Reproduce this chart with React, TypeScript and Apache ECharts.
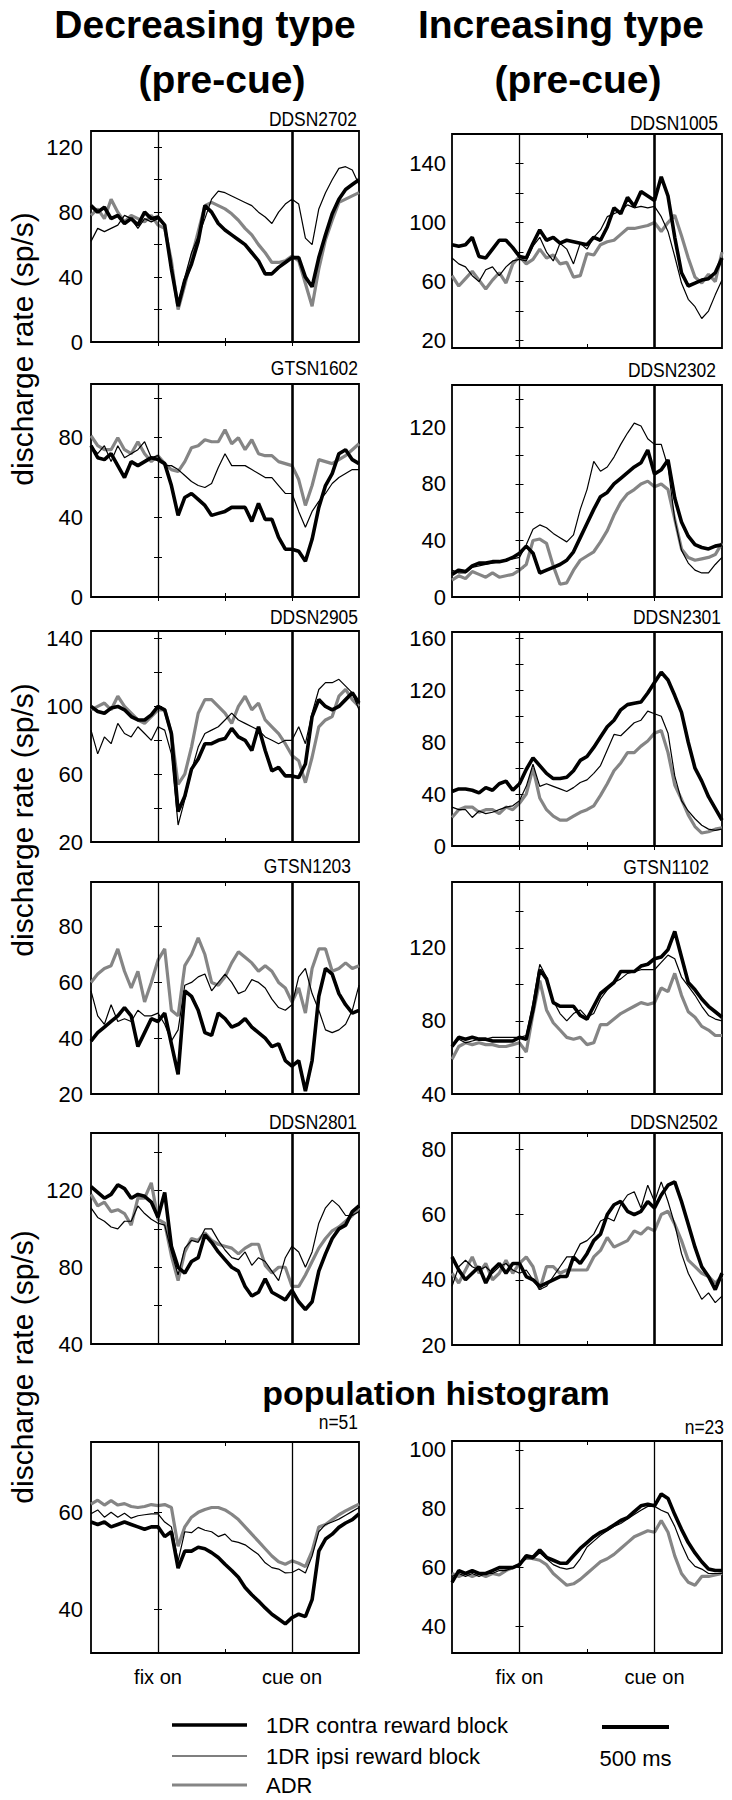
import React, { useEffect, useRef } from 'react';
import * as echarts from 'echarts';

// ---------- data ----------
const timeMs = [-500, -450, -400, -350, -300, -250, -200, -150, -100, -50, 0, 50, 100, 150, 200, 250, 300, 350, 400, 450, 500, 550, 600, 650, 700, 750, 800, 850, 900, 950, 1000, 1050, 1100, 1150, 1200, 1250, 1300, 1350, 1400, 1450, 1500];
const eventTimes = [0, 1000];
const eventNames = ['fix on', 'cue on'];
const xTickValues = [0, 500, 1000];
const seriesNames = ['1DR contra reward block', '1DR ipsi reward block', 'ADR'];
const scaleBarMs = 500;

// Decreasing type
const contra2702 = [84, 80, 83, 76, 78, 73, 76, 72, 80, 76, 77, 72, 45, 22, 38, 48, 62, 84, 80, 73, 69, 66, 63, 60, 55, 50, 42, 42, 46, 49, 52, 52, 40, 34, 52, 66, 79, 88, 94, 97, 100];
const ipsi2702 = [62, 70, 68, 70, 72, 78, 76, 70, 76, 74, 76, 72, 45, 24, 40, 55, 65, 76, 88, 93, 92, 90, 88, 86, 84, 80, 77, 73, 80, 85, 88, 85, 64, 60, 82, 92, 100, 107, 108, 106, 97];
const adr2702 = [78, 82, 76, 88, 80, 74, 78, 76, 74, 78, 72, 70, 50, 20, 35, 52, 68, 84, 86, 84, 82, 79, 75, 70, 66, 60, 55, 49, 49, 50, 53, 50, 36, 22, 45, 63, 75, 86, 88, 90, 92];
const yLabels2702 = [0, 40, 80, 120];
const yTicks2702 = [0, 20, 40, 60, 80, 100, 120];

const contra1602 = [76, 70, 69, 72, 66, 60, 68, 66, 68, 70, 69, 67, 56, 41, 50, 52, 49, 46, 41, 42, 43, 45, 45, 45, 38, 47, 39, 39, 30, 24, 24, 23, 18, 29, 45, 56, 62, 72, 74, 69, 67];
const ipsi1602 = [76, 72, 76, 68, 76, 70, 72, 74, 78, 70, 71, 66, 66, 64, 61, 58, 56, 55, 57, 65, 72, 66, 66, 66, 64, 62, 60, 60, 56, 52, 52, 43, 35, 43, 48, 52, 57, 60, 62, 64, 64];
const adr1602 = [81, 76, 74, 74, 80, 74, 72, 78, 72, 68, 71, 67, 64, 63, 68, 75, 76, 79, 78, 78, 84, 77, 80, 74, 79, 72, 71, 71, 68, 67, 66, 59, 46, 56, 69, 68, 67, 69, 71, 74, 77];
const yLabels1602 = [0, 40, 80];
const yTicks1602 = [0, 20, 40, 60, 80, 100];

const contra2905 = [100, 97, 96, 99, 100, 98, 94, 92, 92, 95, 100, 98, 84, 38, 47, 63, 69, 78, 78, 80, 81, 87, 82, 80, 74, 88, 74, 62, 64, 59, 59, 58, 66, 94, 104, 100, 98, 100, 104, 108, 102];
const ipsi2905 = [86, 72, 82, 78, 90, 84, 82, 88, 84, 80, 88, 86, 72, 30, 45, 62, 76, 84, 86, 88, 92, 96, 92, 90, 88, 86, 82, 80, 78, 80, 80, 88, 78, 96, 110, 114, 114, 116, 112, 108, 98];
const adr2905 = [98, 100, 102, 98, 106, 100, 96, 92, 90, 94, 98, 98, 84, 54, 60, 76, 96, 104, 104, 100, 96, 90, 100, 106, 98, 102, 92, 88, 84, 78, 71, 68, 55, 70, 88, 92, 94, 106, 110, 104, 100];
const yLabels2905 = [20, 60, 100, 140];
const yTicks2905 = [20, 40, 60, 80, 100, 120, 140];

const contra1203 = [39, 42, 44, 46, 48, 51, 48, 37, 42, 47, 46, 49, 38, 27, 57, 55, 50, 42, 41, 49, 47, 44, 45, 47, 44, 42, 40, 37, 38, 32, 30, 32, 21, 32, 55, 65, 63, 56, 52, 49, 50];
const ipsi1203 = [57, 48, 45, 52, 46, 47, 46, 50, 48, 48, 49, 45, 39, 43, 59, 60, 62, 63, 57, 60, 63, 60, 56, 57, 61, 60, 58, 54, 51, 50, 52, 62, 65, 56, 50, 43, 42, 43, 45, 50, 59];
const adr1203 = [60, 63, 65, 66, 72, 64, 58, 64, 53, 60, 68, 72, 50, 48, 66, 70, 76, 70, 60, 59, 62, 67, 71, 69, 67, 64, 66, 64, 60, 58, 53, 58, 49, 65, 72, 72, 64, 65, 67, 65, 66];
const yLabels1203 = [20, 40, 60, 80];
const yTicks1203 = [20, 40, 60, 80];

const contra2801 = [122, 119, 116, 118, 123, 121, 116, 118, 117, 114, 106, 119, 91, 80, 77, 83, 85, 97, 93, 88, 84, 80, 78, 70, 65, 67, 74, 67, 65, 63, 68, 62, 58, 62, 78, 87, 95, 100, 102, 109, 112];
const ipsi2801 = [111, 106, 104, 101, 100, 104, 104, 112, 108, 105, 103, 102, 88, 76, 90, 94, 93, 100, 100, 94, 89, 85, 84, 88, 81, 85, 83, 78, 73, 85, 91, 88, 80, 88, 103, 111, 115, 112, 107, 107, 109];
const adr2801 = [118, 112, 114, 109, 110, 108, 102, 116, 116, 124, 105, 103, 86, 73, 88, 95, 94, 98, 94, 92, 91, 90, 87, 90, 92, 92, 81, 77, 80, 80, 70, 70, 76, 83, 90, 95, 99, 101, 104, 107, 111];
const yLabels2801 = [40, 80, 120];
const yTicks2801 = [40, 60, 80, 100, 120, 140];

const contraPopDec = [58, 57.5, 58, 57, 57.5, 58, 57.5, 57, 56.5, 57, 57, 55, 56, 48.5, 52, 52, 52.8, 52.5, 51.7, 50.7, 49.3, 48, 46.6, 44.5, 43, 41.7, 40.3, 39, 38, 37, 38.3, 39, 38.5, 42, 52, 54.5, 55.5, 56.9, 57.8, 58.5, 59.7];
const ipsiPopDec = [59.7, 60.5, 59, 60, 59, 59.8, 58.8, 59.3, 59.5, 59.7, 59.7, 58, 57, 50, 56, 55.8, 56.9, 56.3, 56, 55, 55.5, 54.1, 53.8, 53.3, 52.3, 51.3, 49.6, 48.6, 48.3, 47.5, 47.6, 48.3, 47.5, 51, 56, 57.5, 58, 58.6, 59.4, 60.2, 61];
const adrPopDec = [61.7, 62.5, 61.5, 62.4, 61.5, 61.8, 61.2, 61, 61.2, 61.6, 61.4, 61.6, 61, 53, 57, 59, 60, 60.6, 61, 61, 60.5, 59.6, 58.5, 57, 55.5, 54, 52.5, 51, 49.8, 49.3, 50, 49.5, 48.8, 52, 57, 57.5, 58.5, 59.5, 60.3, 61, 61.7];
const yLabelsPopDec = [40, 60];
const yTicksPopDec = [40, 60];

// Increasing type
const contra1005 = [85, 84, 85, 90, 77, 76, 82, 88, 88, 83, 77, 76, 86, 95, 88, 90, 86, 88, 87, 86, 85, 90, 88, 97, 110, 106, 117, 111, 121, 118, 115, 131, 118, 90, 66, 57, 59, 61, 62, 66, 76];
const ipsi1005 = [76, 72, 70, 64, 60, 68, 70, 64, 70, 74, 75, 74, 84, 90, 80, 74, 86, 82, 72, 86, 82, 90, 95, 104, 106, 108, 112, 110, 111, 110, 111, 104, 94, 77, 59, 48, 43, 35, 40, 51, 61];
const adr1005 = [64, 57, 62, 67, 61, 55, 61, 66, 59, 72, 77, 72, 75, 82, 76, 78, 72, 73, 63, 64, 79, 78, 85, 87, 88, 92, 96, 96, 97, 98, 100, 94, 100, 105, 91, 76, 63, 59, 65, 60, 80];
const yLabels1005 = [20, 60, 100, 140];
const yTicks1005 = [20, 40, 60, 80, 100, 120, 140];

const contra2302 = [16, 19, 18, 22, 24, 24, 25, 25, 26, 28, 31, 36, 31, 17, 19, 21, 23, 26, 32, 42, 52, 62, 71, 74, 80, 84, 88, 92, 95, 104, 87, 90, 97, 70, 53, 43, 37, 35, 34, 36, 37];
const ipsi2302 = [19, 17, 17, 21, 22, 23, 24, 25, 26, 27, 28, 37, 48, 51, 49, 45, 42, 39, 44, 62, 76, 96, 89, 92, 99, 108, 116, 123, 121, 112, 108, 108, 92, 55, 33, 24, 19, 17, 17, 23, 28];
const adr2302 = [12, 15, 13, 18, 16, 14, 17, 14, 15, 16, 19, 23, 40, 41, 38, 22, 9, 10, 19, 26, 29, 32, 39, 47, 58, 67, 73, 76, 80, 82, 78, 80, 76, 55, 34, 28, 26, 27, 28, 30, 38];
const yLabels2302 = [0, 40, 80, 120];
const yTicks2302 = [0, 20, 40, 60, 80, 100, 120, 140];

const contra2301 = [42, 44, 44, 43, 41, 45, 43, 48, 50, 43, 48, 59, 68, 62, 56, 52, 52, 53, 58, 66, 69, 76, 84, 92, 97, 105, 109, 110, 111, 118, 126, 134, 128, 116, 103, 80, 60, 50, 38, 29, 20];
const ipsi2301 = [30, 28, 28, 22, 27, 25, 26, 28, 30, 31, 35, 46, 63, 46, 48, 46, 44, 42, 45, 49, 51, 56, 62, 74, 86, 85, 90, 95, 97, 104, 102, 100, 87, 54, 35, 27, 21, 16, 13, 12, 13];
const adr2301 = [22, 28, 30, 30, 26, 28, 28, 25, 30, 28, 33, 40, 60, 37, 28, 23, 20, 20, 23, 26, 28, 31, 39, 48, 58, 64, 72, 72, 77, 81, 87, 89, 72, 47, 36, 24, 15, 10, 11, 13, 14];
const yLabels2301 = [0, 40, 80, 120, 160];
const yTicks2301 = [0, 20, 40, 60, 80, 100, 120, 140, 160];

const contra1102 = [66, 71, 70, 71, 70, 70, 69, 69, 69, 69, 71, 70, 86, 108, 103, 90, 88, 88, 88, 83, 81, 88, 95, 98, 101, 107, 107, 107, 110, 111, 114, 115, 119, 129, 115, 101, 97, 92, 88, 85, 82];
const ipsi1102 = [66, 70, 68, 69, 70, 70, 71, 71, 71, 71, 71, 72, 90, 111, 104, 91, 84, 80, 84, 86, 82, 84, 92, 97, 101, 103, 106, 107, 108, 108, 108, 112, 116, 114, 104, 99, 94, 88, 83, 81, 80];
const adr1102 = [59, 66, 68, 67, 68, 67, 67, 66, 66, 67, 68, 63, 84, 102, 86, 79, 75, 71, 70, 71, 67, 68, 78, 78, 81, 84, 86, 88, 90, 89, 90, 98, 96, 106, 94, 85, 82, 77, 75, 72, 72];
const yLabels1102 = [40, 80, 120];
const yTicks1102 = [40, 60, 80, 100, 120, 140];

const contra2502 = [47, 43, 40, 42, 44, 39, 43, 45, 42, 45, 45, 41, 40, 38, 39, 40, 41, 41, 47, 45, 48, 52, 54, 60, 63, 64, 61, 60, 61, 64, 62, 66, 69, 70, 64, 57, 50, 44, 41, 37, 42];
const ipsi2502 = [38, 44, 46, 44, 43, 44, 42, 44, 45, 43, 42, 43, 40, 37, 38, 41, 44, 47, 47, 51, 52, 54, 58, 59, 58, 63, 66, 67, 62, 69, 64, 70, 64, 57, 48, 42, 38, 34, 36, 33, 35];
const adr2502 = [42, 39, 43, 47, 42, 45, 40, 42, 46, 42, 45, 47, 44, 37, 44, 44, 42, 43, 43, 43, 43, 47, 49, 53, 50, 51, 52, 55, 54, 56, 55, 60, 61, 57, 52, 46, 44, 42, 41, 39, 41];
const yLabels2502 = [20, 40, 60, 80];
const yTicks2502 = [20, 40, 60, 80];

const contraPopInc = [55, 59, 58, 59, 58, 58, 59, 60, 60, 60, 61, 64, 63.5, 66, 63.5, 62.5, 61.5, 61.5, 64, 66.5, 68.5, 70.5, 72, 73, 74.5, 76, 77, 79, 81, 81.5, 81, 85, 83.5, 78, 73, 68.5, 65, 62, 59.5, 59, 59];
const ipsiPopInc = [57, 58, 57, 58, 57, 58, 58, 59, 59, 60, 61, 63, 63, 65, 63, 61, 60, 59.5, 60, 63, 67, 69, 71, 72.5, 74, 75, 76.5, 78, 79.5, 80.8, 80.8, 79.5, 78.5, 74, 68, 63, 60.4, 59.5, 58, 58, 58];
const adrPopInc = [58, 57, 58, 57, 58, 57, 58, 57.5, 59, 60, 61, 64, 63, 62.5, 61, 58, 56, 54, 54.5, 56, 58, 60, 62, 63, 64.5, 66.5, 68.5, 70.5, 71.5, 72.5, 72, 76, 72, 64, 58, 55, 54, 57, 57, 57.5, 58];
const yLabelsPopInc = [40, 60, 80, 100];
const yTicksPopInc = [40, 60, 80, 100];

// ---------- layout (positions / styles) ----------
const FONT = "'Liberation Sans', Arial, Helvetica, sans-serif";
const COL_LEFT = [91, 452];
const COL_WIDTH = [268, 270];
const STYLE = {
  contra: { color: '#000', width: 3.6 },
  ipsi: { color: '#000', width: 1.2 },
  adr: { color: '#858585', width: 3.2 },
};

const panels = [
  { label: 'DDSN2702', col: 0, top: 131, height: 211, yMin: 0, yMax: 130, yLabels: yLabels2702, yTicks: yTicks2702, contra: contra2702, ipsi: ipsi2702, adr: adr2702, pop: false, lx: 357, ly: 119 },
  { label: 'DDSN1005', col: 1, top: 134, height: 214, yMin: 15, yMax: 160, yLabels: yLabels1005, yTicks: yTicks1005, contra: contra1005, ipsi: ipsi1005, adr: adr1005, pop: false, lx: 718, ly: 123 },
  { label: 'GTSN1602', col: 0, top: 384, height: 213, yMin: 0, yMax: 107, yLabels: yLabels1602, yTicks: yTicks1602, contra: contra1602, ipsi: ipsi1602, adr: adr1602, pop: false, lx: 358, ly: 368 },
  { label: 'DDSN2302', col: 1, top: 385, height: 212, yMin: 0, yMax: 150, yLabels: yLabels2302, yTicks: yTicks2302, contra: contra2302, ipsi: ipsi2302, adr: adr2302, pop: false, lx: 716, ly: 370 },
  { label: 'DDSN2905', col: 0, top: 631, height: 211, yMin: 20, yMax: 144.5, yLabels: yLabels2905, yTicks: yTicks2905, contra: contra2905, ipsi: ipsi2905, adr: adr2905, pop: false, lx: 358, ly: 617 },
  { label: 'DDSN2301', col: 1, top: 632, height: 214, yMin: 0, yMax: 165, yLabels: yLabels2301, yTicks: yTicks2301, contra: contra2301, ipsi: ipsi2301, adr: adr2301, pop: false, lx: 721, ly: 617 },
  { label: 'GTSN1203', col: 0, top: 882, height: 212, yMin: 20, yMax: 96, yLabels: yLabels1203, yTicks: yTicks1203, contra: contra1203, ipsi: ipsi1203, adr: adr1203, pop: false, lx: 351, ly: 866 },
  { label: 'GTSN1102', col: 1, top: 882, height: 212, yMin: 40, yMax: 156, yLabels: yLabels1102, yTicks: yTicks1102, contra: contra1102, ipsi: ipsi1102, adr: adr1102, pop: false, lx: 709, ly: 867 },
  { label: 'DDSN2801', col: 0, top: 1133, height: 211, yMin: 40, yMax: 150, yLabels: yLabels2801, yTicks: yTicks2801, contra: contra2801, ipsi: ipsi2801, adr: adr2801, pop: false, lx: 357, ly: 1122 },
  { label: 'DDSN2502', col: 1, top: 1133, height: 212, yMin: 20, yMax: 85, yLabels: yLabels2502, yTicks: yTicks2502, contra: contra2502, ipsi: ipsi2502, adr: adr2502, pop: false, lx: 718, ly: 1122 },
  { label: 'n=51', col: 0, top: 1442, height: 211, yMin: 31, yMax: 74.5, yLabels: yLabelsPopDec, yTicks: yTicksPopDec, contra: contraPopDec, ipsi: ipsiPopDec, adr: adrPopDec, pop: true, lx: 358, ly: 1422 },
  { label: 'n=23', col: 1, top: 1441, height: 212, yMin: 31, yMax: 103, yLabels: yLabelsPopInc, yTicks: yTicksPopInc, contra: contraPopInc, ipsi: ipsiPopInc, adr: adrPopInc, pop: true, lx: 724, ly: 1427 },
];

function buildOption() {
  const grid: any[] = [];
  const xAxis: any[] = [];
  const yAxis: any[] = [];
  const series: any[] = [];
  const graphic: any[] = [];
  const tick = { show: true, inside: true, length: 4, lineStyle: { color: '#000', width: 1 } };

  const txt = (text: string, x: number, y: number, font: string, align = 'center', extra: any = {}) => ({
    type: 'text', x, y, silent: true, ...extra,
    style: { text, font, fill: '#000', textAlign: align, textVerticalAlign: 'middle', align, verticalAlign: 'middle' },
  });

  panels.forEach((p, i) => {
    const left = COL_LEFT[p.col];
    const width = COL_WIDTH[p.col];
    grid.push({ left, top: p.top, width, height: p.height, show: true, borderColor: '#000', borderWidth: 1.8, backgroundColor: 'transparent', containLabel: false });
    xAxis.push({
      gridIndex: i, type: 'value', min: -500, max: 1500, position: 'bottom',
      axisLine: { show: false }, splitLine: { show: false },
      axisTick: { ...tick, customValues: xTickValues },
      axisLabel: p.pop
        ? { show: true, customValues: eventTimes, formatter: (v: number) => eventNames[eventTimes.indexOf(v)] || '', color: '#000', fontSize: 20, fontFamily: FONT, margin: 14 }
        : { show: false },
    });
    xAxis.push({
      gridIndex: i, type: 'value', min: -500, max: 1500, position: 'top',
      axisLine: { show: false }, splitLine: { show: false },
      axisTick: { ...tick, customValues: xTickValues }, axisLabel: { show: false },
    });
    yAxis.push({
      gridIndex: i, type: 'value', min: p.yMin, max: p.yMax, position: 'left',
      axisLine: { show: false }, splitLine: { show: false },
      axisTick: { ...tick, customValues: p.yTicks },
      axisLabel: { show: true, customValues: p.yLabels, color: '#000', fontSize: 22, fontFamily: FONT, margin: p.col === 0 ? 8 : 6 },
    });
    yAxis.push({
      gridIndex: i, type: 'value', min: p.yMin, max: p.yMax, position: 'right',
      axisLine: { show: false }, splitLine: { show: false },
      axisTick: { ...tick, customValues: p.yTicks }, axisLabel: { show: false },
    });
    const mk = (arr: number[]) => timeMs.map((t, k) => [t, arr[k]]);
    const base = { type: 'line', xAxisIndex: 2 * i, yAxisIndex: 2 * i, symbol: 'none', showSymbol: false, clip: true, animation: false, silent: true };
    series.push({ ...base, name: seriesNames[2], data: mk(p.adr), z: 2, itemStyle: { color: STYLE.adr.color }, lineStyle: { ...STYLE.adr } });
    series.push({ ...base, name: seriesNames[1], data: mk(p.ipsi), z: 3, itemStyle: { color: STYLE.ipsi.color }, lineStyle: { ...STYLE.ipsi } });
    series.push({
      ...base, name: seriesNames[0], data: mk(p.contra), z: 4, itemStyle: { color: STYLE.contra.color }, lineStyle: { ...STYLE.contra },
      markLine: {
        silent: true, symbol: ['none', 'none'], label: { show: false }, animation: false,
        data: [
          { xAxis: eventTimes[0], lineStyle: { color: '#000', width: 1.3, type: 'solid' } },
          { xAxis: eventTimes[1], lineStyle: { color: '#000', width: p.pop ? 1.3 : 2.6, type: 'solid' } },
        ],
      },
    });
    graphic.push(txt(p.label, p.lx, p.ly, `21px ${FONT}`, 'right', { scaleX: 0.83 }));
  });

  graphic.push(txt('Decreasing type', 205, 24, `bold 39px ${FONT}`));
  graphic.push(txt('(pre-cue)', 222, 79, `bold 39px ${FONT}`));
  graphic.push(txt('Increasing type', 561, 24, `bold 39px ${FONT}`));
  graphic.push(txt('(pre-cue)', 578, 79, `bold 39px ${FONT}`));
  graphic.push(txt('population histogram', 436, 1393, `bold 34px ${FONT}`));
  [349, 820, 1367].forEach((cy) => graphic.push(txt('discharge rate (sp/s)', 22, cy, `30px ${FONT}`, 'center', { rotation: Math.PI / 2 })));

  // legend (drawn as graphics)
  const legendRows = [
    { name: seriesNames[0], y: 1725, st: STYLE.contra },
    { name: seriesNames[1], y: 1756, st: STYLE.ipsi },
    { name: seriesNames[2], y: 1785, st: STYLE.adr },
  ];
  legendRows.forEach((r) => {
    graphic.push({ type: 'line', silent: true, shape: { x1: 172, y1: r.y, x2: 247, y2: r.y }, style: { stroke: r.st.color, lineWidth: r.st.width } });
    graphic.push(txt(r.name, 266, r.y, `22px ${FONT}`, 'left'));
  });

  // 500 ms scale bar, length from the left column's x scale
  const pxPerMs = COL_WIDTH[0] / 2000;
  const barX = 602;
  graphic.push({ type: 'line', silent: true, shape: { x1: barX, y1: 1727, x2: barX + scaleBarMs * pxPerMs, y2: 1727 }, style: { stroke: '#000', lineWidth: 4 } });
  graphic.push(txt(`${scaleBarMs} ms`, barX + (scaleBarMs * pxPerMs) / 2, 1758, `22px ${FONT}`));

  return {
    animation: false,
    backgroundColor: '#fff',
    grid, xAxis, yAxis, series, graphic,
  };
}

export default function App() {
  const ref = useRef<HTMLDivElement>(null);
  useEffect(() => {
    if (!ref.current) return;
    const chart = echarts.init(ref.current, null, { renderer: 'svg' });
    chart.setOption(buildOption() as any);
    return () => chart.dispose();
  }, []);
  return <div ref={ref} style={{ position: 'absolute', left: 0, top: 0, width: 732, height: 1800 }} />;
}
